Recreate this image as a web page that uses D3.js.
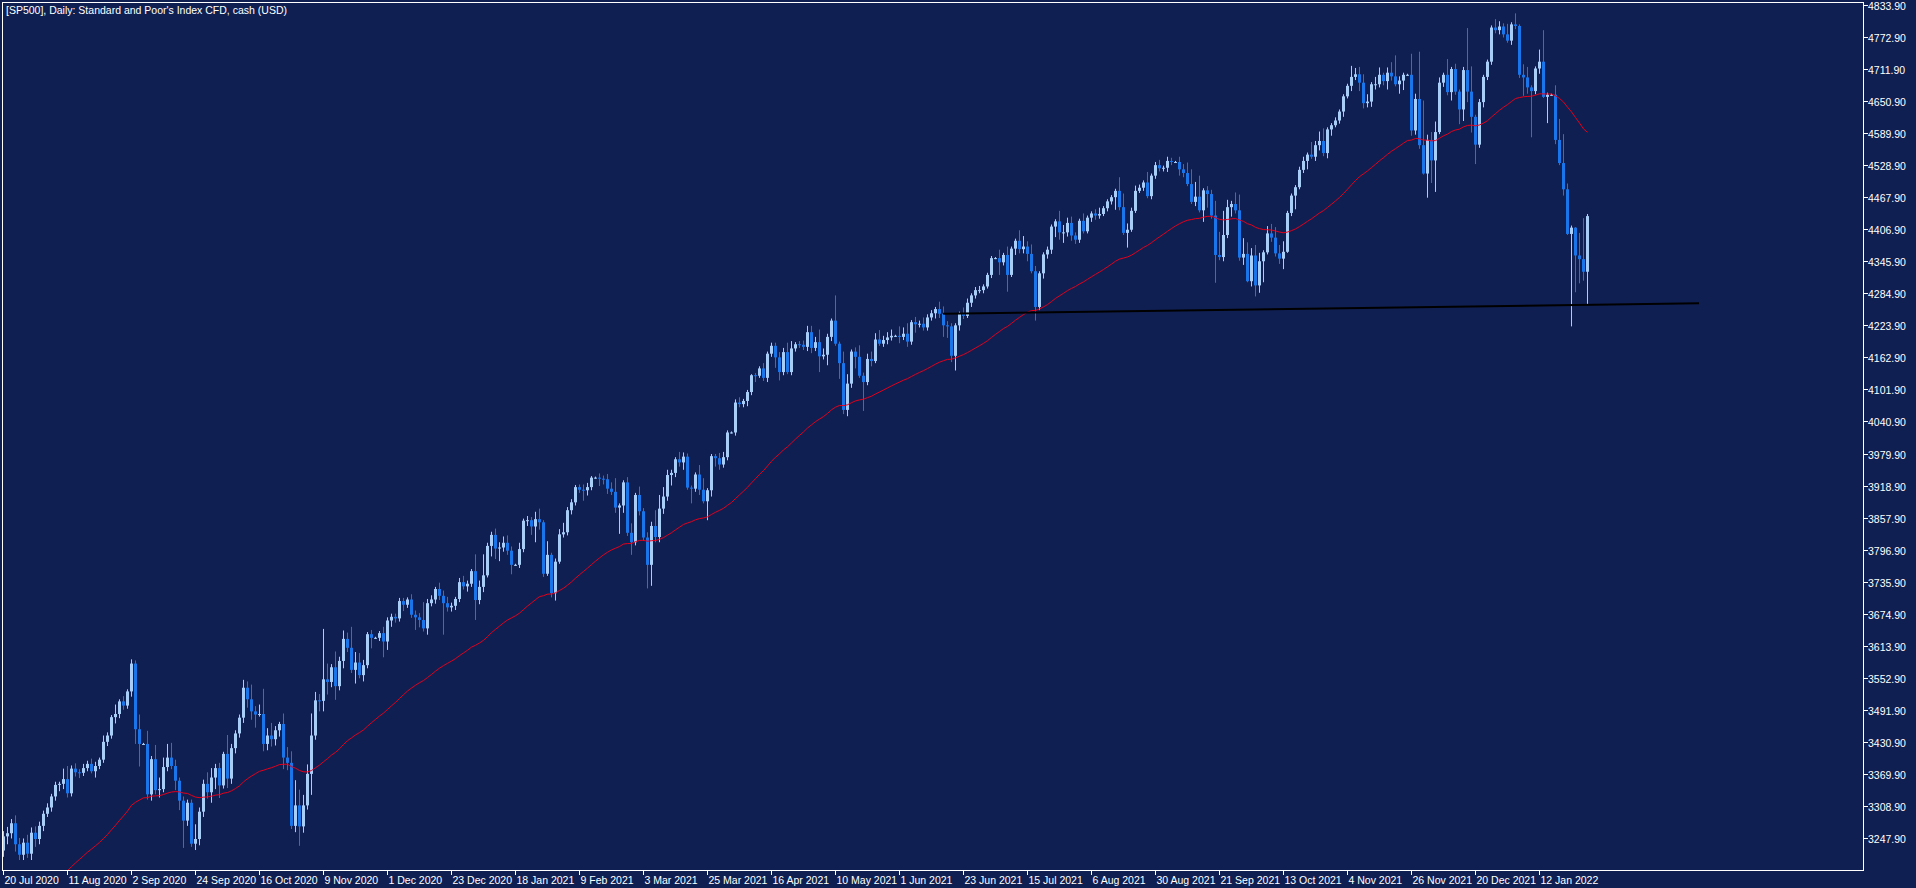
<!DOCTYPE html>
<html><head><meta charset="utf-8">
<script src="https://cdn.jsdelivr.net/npm/d3@7/dist/d3.min.js"></script>
<style>html,body{margin:0;padding:0;background:#101f52;overflow:hidden}</style>
</head><body><svg id="c" width="1916" height="888"></svg>
<script>
const title = "[SP500], Daily:  Standard and Poor's Index CFD, cash (USD)";
const startDate = "2020-07-20";
const skipDates = ["2020-12-25","2021-01-01","2021-12-24"];
// closes before the first visible bar (moving average warm-up)
const preClose = [2882,2930,2930,2870,2820,2852,2864,2954,2922,2972,2949,2955,2955,2992,3036,3029,3044,
 3056,3080,3122,3112,3194,3232,3207,3190,3002,3041,3067,3125,3113,3115,3098,3118,3131,3050,3084,3009,
 3053,3100,3116,3130,3130,3179,3145,3169,3152,3185,3155,3197,3227,3215,3224];
const close = [
 3251,3257,3276,3236,3216, 3239,3218,3258,3246,3271, 3294,3306,3327,3349,3351, 3360,3333,3380,3373,3372,
 3381,3389,3375,3385,3397, 3431,3443,3478,3484,3508, 3500,3527,3580,3455,3427, 3427,3331,3398,3339,3341,
 3383,3401,3385,3357,3319, 3281,3315,3237,3246,3298, 3351,3335,3363,3381,3348, 3408,3361,3419,3447,3477,
 3534,3512,3489,3483,3484, 3427,3443,3436,3453,3465, 3401,3391,3271,3310,3270, 3310,3370,3443,3510,3509,
 3550,3545,3573,3537,3585, 3627,3610,3568,3582,3558, 3577,3636,3629,3629,3638, 3622,3662,3669,3666,3699,
 3692,3702,3673,3668,3663, 3647,3695,3702,3722,3709, 3695,3687,3690,3703, 3735,3727,3732,3756,
 3701,3726,3748,3804,3825, 3799,3801,3810,3795,3768, 3768,3798,3852,3853,3841, 3855,3849,3751,3787,3714,
 3774,3826,3830,3872,3887, 3916,3911,3910,3916,3934, 3934,3932,3931,3913,3907, 3877,3881,3925,3829,3811,
 3901,3870,3820,3768,3842, 3821,3875,3898,3939,3943, 3969,3963,3974,3915,3913, 3940,3911,3889,3910,3975,
 3971,3959,3973,4020,4020, 4077,4074,4080,4097,4129, 4128,4142,4124,4170,4185, 4163,4135,4173,4135,4180,
 4188,4187,4183,4211,4181, 4192,4165,4168,4202,4233, 4189,4152,4063,4113,4174, 4164,4128,4116,4160,4156,
 4197,4189,4196,4201,4204, 4204,4202,4208,4193,4230, 4226,4227,4220,4239,4247, 4255,4246,4224,4222,4166,
 4224,4246,4242,4267,4281, 4291,4291,4298,4320,4352, 4352,4344,4358,4320,4370, 4385,4369,4374,4360,4327,
 4259,4323,4359,4368,4412, 4422,4401,4401,4419,4395, 4387,4423,4403,4429,4437, 4433,4436,4447,4460,4468,
 4480,4449,4400,4406,4442, 4480,4486,4496,4470,4509, 4529,4523,4524,4537,4535, 4535,4521,4514,4493,4459,
 4469,4443,4481,4474,4433, 4358,4354,4396,4449,4455, 4443,4353,4360,4308,4357, 4300,4346,4363,4399,4391,
 4361,4351,4364,4438,4471, 4487,4520,4537,4549,4545, 4567,4575,4552,4597,4605, 4614,4631,4660,4680,4697,
 4702,4686,4647,4650,4683, 4683,4701,4689,4705,4698, 4683,4690,4701,4701,4595, 4655,4567,4513,4577,4538,
 4592,4686,4701,4668,4712, 4669,4635,4710,4669,4621, 4568,4649,4697,4726, 4791,4786,4793,4778,4766,
 4797,4794,4701,4696,4677, 4670,4713,4726,4659,4663, 4663,4577,4533,4483,4398, 4410,4357,4350,4326,4432];
const upWick = [
 10,12,8,15,12, 8,15,10,12,8, 6,8,5,6,4, 20,25,6,10,6, 8,6,10,8,4, 12,6,4,18,4, 10,4,8,6,28, 2,25,6,27,22,
 18,26,28,12,6, 8,6,6,28,8, 8,22,18,8,10, 4,36,8,6,6, 15,12,28,10,18, 48,14,24,8,4, 20,20,22,48,30, 20,18,42,16,12,
 96,30,6,30,8, 16,12,40,20,18, 10,4,8,2,4, 12,6,6,6,6, 6,4,10,8,8, 34,8,8,4,12, 10,12,6,4, 8,12,6,4,
 32,12,40,6,6, 12,10,12,14,8, 2,12,4,8,6, 14,20,4,26,4, 6,10,18,6,6, 4,5,10,8,3, 2,8,6,10,12, 26,4,4,10,18,
 4,16,6,10,8, 30,26,18,10,6, 4,14,8,6,4, 4,18,22,4,4, 4,10,10,4,2, 6,10,4,4,2, 4,4,10,4,6, 6,10,8,18,14,
 4,6,8,12,12, 10,24,12,6,4, 48,4,22,18,4, 8,22,6,10,14, 12,18,8,10,12, 2,18,12,20,4, 10,6,12,6,6, 4,14,14,8,6,
 4,4,12,8,4, 6,8,4,4,4, 2,16,4,16,4, 4,20,20,10,18, 10,4,4,6,4, 4,20,14,10,12, 6,4,14,4,4, 8,12,4,4,4,
 4,26,26,12,6, 10,6,4,20,4, 6,10,4,8,6, 2,10,10,20,28, 28,40,4,8,8, 28,44,46,14,6, 22,30,30,22,14, 20,16,4,14,18,
 20,16,20,4,4, 4,6,8,4,24, 8,18,24,4,4, 6,4,4,4,21, 12,14,16,14,4, 14,14,4,10,20, 40,8,4,2,40, 10,90,85,10,15,
 20,10,4,30,4, 10,4,6,80,48, 4,6,4,4, 4,16,10,6,20, 4,21,3,20,20, 4,4,23,60,4, 2,18,40,55,11, 4,1,43,78,4];
const loWick = [
 12,15,10,14,10, 10,8,12,15,10, 10,6,8,8,12, 10,8,6,8,10, 6,6,4,12,6, 6,8,6,12,8, 8,6,10,28,43, 2,10,12,8,14,
 6,8,6,18,18, 52,10,6,12,12, 10,12,20,22,24, 6,18,10,10,8, 10,16,16,25,4, 14,12,14,12,12, 22,14,6,12,37, 12,8,40,8,20,
 20,24,10,26,8, 14,8,6,26,6, 12,6,20,2,6, 30,16,12,8,6, 12,6,6,24,14, 6,12,6,8,8, 60,8,8,8, 6,6,10,6,
 38,8,10,4,20, 20,24,8,8,18, 2,6,6,10,16, 30,14,6,4,8, 14,4,6,6,8, 6,6,20,10,6, 2,14,10,10,6, 10,50,14,6,24,
 6,8,6,45,40, 10,10,10,8,20, 8,8,14,4,28, 6,10,4,36,12, 16,10,6,6,2, 6,6,6,10,6, 12,4,6,8,6, 20,16,6,4,6,
 6,6,6,8,10, 6,30,6,20,8, 4,30,8,12,8, 22,4,55,6,10, 4,4,6,8,6, 2,12,6,10,6, 16,6,6,6,6, 10,8,22,22,12,
 28,10,6,4,8, 6,6,6,4,6, 2,24,6,32,4, 12,8,8,14,4, 26,6,10,8,8, 20,14,20,8,10, 8,6,4,4,8, 8,6,4,6,6,
 24,6,4,28,4, 4,4,6,4,6, 6,6,6,8,6, 2,12,8,4,4, 8,4,22,26,6, 53,6,8,6,18, 6,6,14,2,10, 21,14,40,4,8,
 6,10,20,2,6, 26,4,6,16,4, 8,10,6,10,12, 4,6,10,4,10, 6,16,10,8,10, 10,6,8,16,8, 4,18,18,2,10, 8,7,2,46,43,
 60,4,8,6,16, 6,28,22,20,30, 37,6,10,6, 6,6,8,6,4, 8,6,6,35,12, 88,6,10,2,50, 2,8,4,12,2, 176,70,46,17,62];
const priceTicks = d3.range(0, 27).map(i => 3247.9 + i * 61);
const trendIdx = [235, 424];
const trendPrice = [4246, 4266];
const maPeriod = 50;

// build bars
const fmtKey = d3.timeFormat("%Y-%m-%d");
const dates = [];
let d = new Date(startDate + "T12:00:00");
while (dates.length < close.length) {
  const wd = d.getDay();
  if (wd !== 0 && wd !== 6 && !skipDates.includes(fmtKey(d))) dates.push(new Date(d));
  d.setDate(d.getDate() + 1);
}
const bars = close.map((c, i) => {
  const o = i === 0 ? preClose[preClose.length - 1] : close[i - 1];
  return {i, date: dates[i], o, c, h: Math.max(o, c) + upWick[i], l: Math.min(o, c) - loWick[i]};
});
// EMA
const k = 2 / (maPeriod + 1);
let ema = preClose[0];
preClose.forEach(v => ema = v * k + ema * (1 - k));
const ma = close.map(v => (ema = v * k + ema * (1 - k)));

const L = 2, T = 2, R = 1863, B = 870;
const x = d3.scaleLinear().domain([0, 1]).range([3, 7]);
const y = d3.scaleLinear().domain([3247.9, 4833.9]).range([838, 5]);
const svg = d3.select("#c");
svg.append("rect").attr("width", 1916).attr("height", 888).attr("fill", "#101f52");
svg.append("clipPath").attr("id", "pc").append("rect").attr("x", L).attr("y", T).attr("width", R - L).attr("height", B - T);
const g = svg.append("g").attr("clip-path", "url(#pc)");
const bull = "#a8cdf7", bear = "#1a74ea";
g.selectAll("line.w").data(bars).join("line")
  .attr("x1", b => Math.round(x(b.i)) + 0.5).attr("x2", b => Math.round(x(b.i)) + 0.5)
  .attr("y1", b => y(b.h)).attr("y2", b => y(b.l))
  .attr("stroke", b => b.c >= b.o ? bull : bear).attr("stroke-width", 1);
g.selectAll("rect.b").data(bars).join("rect")
  .attr("x", b => Math.round(x(b.i)) - 1).attr("width", 3)
  .attr("y", b => y(Math.max(b.o, b.c))).attr("height", b => Math.max(1, Math.abs(y(b.o) - y(b.c))))
  .attr("fill", b => b.c >= b.o ? bull : bear);
g.append("path").datum(ma)
  .attr("d", d3.line().x((v, i) => x(i) + 0.5).y(v => y(v)))
  .attr("fill", "none").attr("stroke", "#e3001b").attr("stroke-width", 1);
g.append("line").attr("x1", x(trendIdx[0])).attr("x2", x(trendIdx[1]))
  .attr("y1", y(trendPrice[0])).attr("y2", y(trendPrice[1]))
  .attr("stroke", "#000").attr("stroke-width", 2);

// frame
svg.append("rect").attr("x", L + 0.5).attr("y", T + 0.5).attr("width", R - L).attr("height", B - T)
  .attr("fill", "none").attr("stroke", "#fff").attr("stroke-width", 1);
const font = "Liberation Sans, Arial, sans-serif";
svg.append("text").attr("x", 6).attr("y", 14).text(title)
  .attr("fill", "#fff").attr("font-family", font).attr("font-size", 10.5);
// price axis
const pt = svg.append("g");
priceTicks.forEach(p => {
  const yy = Math.round(y(p)) + 0.5;
  pt.append("line").attr("x1", R).attr("x2", R + 5).attr("y1", yy).attr("y2", yy).attr("stroke", "#fff");
  pt.append("text").attr("x", R + 5).attr("y", yy + 4).text(p.toFixed(2))
    .attr("fill", "#fff").attr("font-family", font).attr("font-size", 10.5);
});
// date axis
const fd = d3.timeFormat("%-d %b %Y");
const tg = svg.append("g");
bars.filter(b => b.i % 16 === 0).forEach(b => {
  const xx = Math.round(x(b.i)) + 0.5;
  tg.append("line").attr("x1", xx).attr("x2", xx).attr("y1", B).attr("y2", B + 5).attr("stroke", "#fff");
  tg.append("text").attr("x", xx + 1).attr("y", B + 14).text(fd(b.date))
    .attr("fill", "#fff").attr("font-family", font).attr("font-size", 10.5);
});
</script></body></html>
